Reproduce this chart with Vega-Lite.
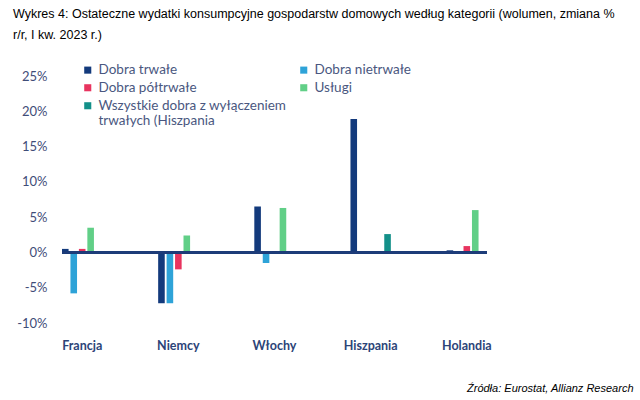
{
  "$schema": "https://vega.github.io/schema/vega-lite/v6.json",
  "autosize": {"type": "none"},
  "width": 425,
  "height": 247,
  "padding": {"left": 62, "top": 76, "right": 153, "bottom": 77},
  "background": "white",
  "title": {
    "text": ["Wykres 4: Ostateczne wydatki konsumpcyjne gospodarstw domowych według kategorii (wolumen, zmiana %", "r/r, I kw. 2023 r.)"],
    "anchor": "start",
    "frame": "group",
    "font": "Liberation Sans",
    "fontSize": 12.5,
    "fontWeight": "normal",
    "color": "#000000",
    "lineHeight": 21,
    "dx": -49,
    "offset": 22
  },
  "data": {
    "values": [
      {"kraj": "Francja", "kategoria": "Dobra trwałe", "wartosc": 0.5},
      {"kraj": "Francja", "kategoria": "Dobra nietrwałe", "wartosc": -5.8},
      {"kraj": "Francja", "kategoria": "Dobra półtrwałe", "wartosc": 0.5},
      {"kraj": "Francja", "kategoria": "Usługi", "wartosc": 3.5},
      {"kraj": "Niemcy", "kategoria": "Dobra trwałe", "wartosc": -7.2},
      {"kraj": "Niemcy", "kategoria": "Dobra nietrwałe", "wartosc": -7.2},
      {"kraj": "Niemcy", "kategoria": "Dobra półtrwałe", "wartosc": -2.4},
      {"kraj": "Niemcy", "kategoria": "Usługi", "wartosc": 2.4},
      {"kraj": "Włochy", "kategoria": "Dobra trwałe", "wartosc": 6.5},
      {"kraj": "Włochy", "kategoria": "Dobra nietrwałe", "wartosc": -1.5},
      {"kraj": "Włochy", "kategoria": "Dobra półtrwałe", "wartosc": 0.2},
      {"kraj": "Włochy", "kategoria": "Usługi", "wartosc": 6.3},
      {"kraj": "Hiszpania", "kategoria": "Dobra trwałe", "wartosc": 18.9},
      {"kraj": "Hiszpania", "kategoria": "Wszystkie dobra z wyłączeniem trwałych (Hiszpania", "wartosc": 2.6},
      {"kraj": "Holandia", "kategoria": "Dobra trwałe", "wartosc": 0.3},
      {"kraj": "Holandia", "kategoria": "Dobra półtrwałe", "wartosc": 0.9},
      {"kraj": "Holandia", "kategoria": "Usługi", "wartosc": 6.0}
    ]
  },
  "layer": [
    {
      "mark": {"type": "bar"},
      "encoding": {
        "x": {
          "field": "kraj",
          "type": "nominal",
          "sort": ["Francja", "Niemcy", "Włochy", "Hiszpania", "Holandia"],
          "scale": {"paddingInner": 0.58, "paddingOuter": 0},
          "axis": {
            "domain": false,
            "ticks": false,
            "labelAngle": 0,
            "labelFont": "Lato",
            "labelFontWeight": "bold",
            "labelFontSize": 12.5,
            "labelColor": "#2c4478",
            "labelPadding": 16,
            "title": "Źródła: Eurostat, Allianz Research",
            "titleFont": "Liberation Sans",
            "titleFontStyle": "italic",
            "titleFontWeight": "normal",
            "titleFontSize": 11,
            "titleColor": "#000000",
            "titleX": 571,
            "titleY": 65,
            "titleAlign": "right",
            "titleBaseline": "middle"
          }
        },
        "xOffset": {
          "field": "kategoria",
          "type": "nominal",
          "scale": {
            "domain": ["Dobra trwałe", "Dobra nietrwałe", "Dobra półtrwałe", "Usługi", "Wszystkie dobra z wyłączeniem trwałych (Hiszpania"],
            "paddingInner": 0.22
          }
        },
        "y": {
          "field": "wartosc",
          "type": "quantitative",
          "scale": {"domain": [-10, 25], "nice": false},
          "axis": {
            "values": [-10, -5, 0, 5, 10, 15, 20, 25],
            "labelExpr": "datum.value + '%'",
            "labelOverlap": false,
            "domain": false,
            "ticks": false,
            "grid": false,
            "labelPadding": 15,
            "title": null,
            "labelFont": "Lato",
            "labelFontSize": 13,
            "labelColor": "#3f4d78"
          }
        },
        "color": {
          "field": "kategoria",
          "type": "nominal",
          "scale": {
            "domain": ["Dobra trwałe", "Dobra półtrwałe", "Wszystkie dobra z wyłączeniem trwałych (Hiszpania", "Dobra nietrwałe", "Usługi"],
            "range": ["#133a7c", "#e8345f", "#139089", "#2ea3d8", "#61cf87"]
          },
          "legend": {
            "orient": "none",
            "legendX": 19,
            "legendY": -13,
            "columns": 2,
            "title": null,
            "symbolType": "square",
            "symbolSize": 50,
            "symbolStrokeWidth": 0,
            "labelFont": "Lato",
            "labelFontSize": 13.5,
            "labelColor": "#4a5780",
            "labelLimit": 300,
            "rowPadding": 3,
            "columnPadding": 10,
            "labelExpr": "datum.label == 'Wszystkie dobra z wyłączeniem trwałych (Hiszpania' ? ['Wszystkie dobra z wyłączeniem', 'trwałych (Hiszpania'] : datum.label"
          }
        }
      }
    },
    {
      "mark": {"type": "rule", "color": "#1f3c7a", "strokeWidth": 1.5},
      "encoding": {
        "y": {
          "datum": 0,
          "type": "quantitative",
          "axis": {
            "values": [-10, -5, 0, 5, 10, 15, 20, 25],
            "labelExpr": "datum.value + '%'",
            "labelOverlap": false,
            "domain": false,
            "ticks": false,
            "grid": false,
            "labelPadding": 15,
            "title": null,
            "labelFont": "Lato",
            "labelFontSize": 13,
            "labelColor": "#3f4d78"
          }
        }
      }
    }
  ],
  "config": {"view": {"stroke": null}}
}
